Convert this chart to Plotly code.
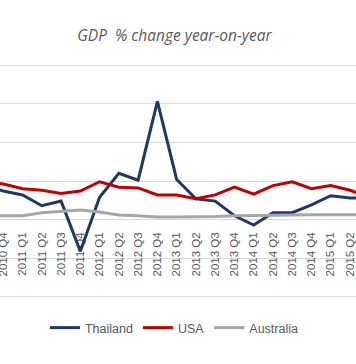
import plotly.graph_objects as go

quarters = ["2010 Q3", "2010 Q4",
            "2011 Q1", "2011 Q2", "2011 Q3", "2011 Q4",
            "2012 Q1", "2012 Q2", "2012 Q3", "2012 Q4",
            "2013 Q1", "2013 Q2", "2013 Q3", "2013 Q4",
            "2014 Q1", "2014 Q2", "2014 Q3", "2014 Q4",
            "2015 Q1", "2015 Q2", "2015 Q3"]

thailand = [4.5, 3.7, 3.2, 1.8, 2.4, -4.1, 2.9, 6.0, 5.1, 15.3, 5.2,
            2.7, 2.4, 0.5, -0.7, 0.9, 0.9, 1.9, 3.1, 2.8, 2.8]
usa = [5.1, 4.6, 4.0, 3.8, 3.4, 3.7, 4.9, 4.2, 4.1, 3.2, 3.2,
       2.7, 3.2, 4.2, 3.3, 4.4, 4.9, 4.0, 4.4, 3.8, 2.9]
australia = [0.5, 0.5, 0.5, 0.9, 1.1, 1.25, 1.0, 0.6, 0.5, 0.35, 0.35,
             0.35, 0.4, 0.5, 0.55, 0.6, 0.6, 0.65, 0.65, 0.65, 0.65]

series = [("Thailand", thailand, "#1F3864"),
          ("USA", usa, "#C00000"),
          ("Australia", australia, "#A6A6A6")]

fig = go.Figure()
for name, vals, color in series:
    fig.add_trace(go.Scatter(x=quarters, y=vals, name=name, mode="lines",
                             line=dict(color=color, width=3)))

fig.update_layout(
    width=356, height=364,
    margin=dict(l=0, r=0, t=63, b=65, autoexpand=False),
    paper_bgcolor="white", plot_bgcolor="white",
    title=dict(text="<i>GDP  % change year-on-year</i>", x=0.49, xanchor="center",
               y=1 - 36 / 364, yanchor="middle", yref="container",
               font=dict(family="Open Sans", size=15.5, color="#595959")),
    showlegend=True,
    legend=dict(orientation="h", x=0.49, xanchor="center",
                yref="container", y=1 - 328 / 364, yanchor="middle",
                font=dict(family="Liberation Sans", size=12.5, color="#595959"),
                itemwidth=30, bgcolor="rgba(0,0,0,0)"),
    xaxis=dict(type="category", categoryorder="array", categoryarray=quarters,
               range=[0.829, 19.31], showgrid=False, zeroline=False, showline=False,
               automargin=False, layer="below traces",
               ticks="", tickangle=-90, anchor="free", position=0.3004,
               ticklabelstandoff=1,
               tickfont=dict(family="Liberation Sans", size=11.5, color="#595959")),
    yaxis=dict(range=[-10.26, 20.26], dtick=5, showticklabels=False, showgrid=True,
               automargin=False,
               gridcolor="#D9D9D9", gridwidth=1, zeroline=False, showline=False),
)

fig.write_html("out.html", config={"displayModeBar": False},
               post_script="document.body.style.margin='0';document.body.style.overflow='hidden';")
